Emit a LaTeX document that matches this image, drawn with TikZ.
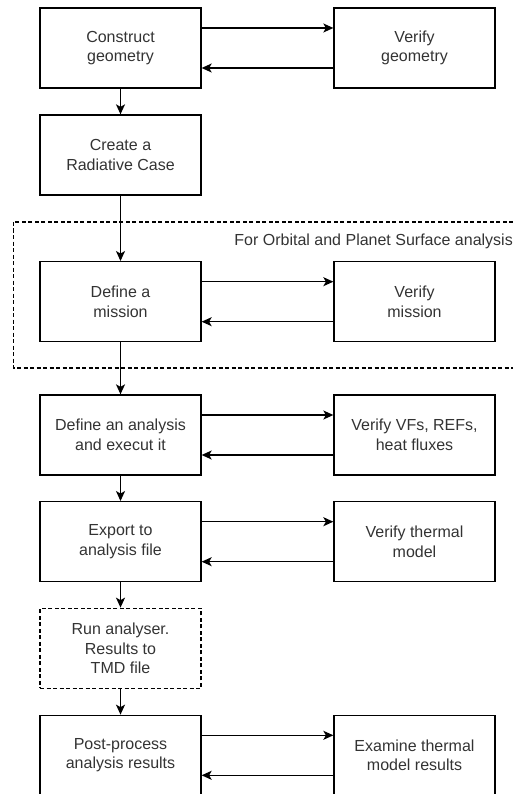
\documentclass[tikz,border=0pt]{standalone}
\usepackage{fontspec}
\setmainfont{Liberation Sans}
\usetikzlibrary{arrows.meta}
\definecolor{txt}{HTML}{333333}
\tikzset{
  box/.style={draw=black, line width=1.3pt, minimum width=161pt, minimum height=80pt,
    align=center, text=txt, font=\fontsize{16}{19.5}\selectfont, inner sep=0pt},
  dbox/.style={box, dash pattern=on 4pt off 2.5pt},
  conn/.style={draw=black, line width=1.3pt, -{Stealth[length=10pt,width=9pt,inset=2.5pt]}},
  region/.style={draw=black, line width=1.2pt, dash pattern=on 4pt off 2.5pt},
}
\begin{document}
\begin{tikzpicture}[x=1pt,y=-1pt]
\useasboundingbox (0,0) rectangle (513,794);
\begin{scope}
\clip (0,0) rectangle (513,794);
\draw[region] (13.5,222) rectangle (530,368);
\node[anchor=east, text=txt, font=\fontsize{16}{19.5}\selectfont, inner sep=0pt] (lbl) at (513,241.7) {For Orbital and Planet Surface analysis};

\node[box] (cg) at (120.5,48) {Construct\\geometry};
\node[box] (vg) at (414.5,48) {Verify\\geometry};
\node[box] (rc) at (120.5,155) {Create a\\Radiative Case};
\node[box] (dm) at (120.5,301.7) {Define a\\mission};
\node[box] (vm) at (414.5,301.7) {Verify\\mission};
\node[box] (da) at (120.5,435) {Define an analysis\\and execut it};
\node[box] (vv) at (414.5,435) {Verify VFs, REFs,\\heat fluxes};
\node[box] (ex) at (120.5,541.7) {Export to\\analysis file};
\node[box] (vt) at (414.5,541.7) {Verify thermal\\model};
\node[dbox] (ra) at (120.5,648.3) {Run analyser.\\Results to\\TMD file};
\node[box] (pp) at (120.5,755.3) {Post-process\\analysis results};
\node[box] (et) at (414.5,755.3) {Examine thermal\\model results};

\foreach \a/\b in {cg/vg, dm/vm, da/vv, ex/vt, pp/et}{
  \draw[conn] ([yshift=20pt]\a.east) -- ([yshift=20pt]\b.west);
  \draw[conn] ([yshift=-20pt]\b.west) -- ([yshift=-20pt]\a.east);
}
\foreach \a/\b in {cg/rc, rc/dm, dm/da, da/ex, ex/ra, ra/pp}{
  \draw[conn] (\a.south) -- (\b.north);
}
\end{scope}
\end{tikzpicture}
\end{document}
